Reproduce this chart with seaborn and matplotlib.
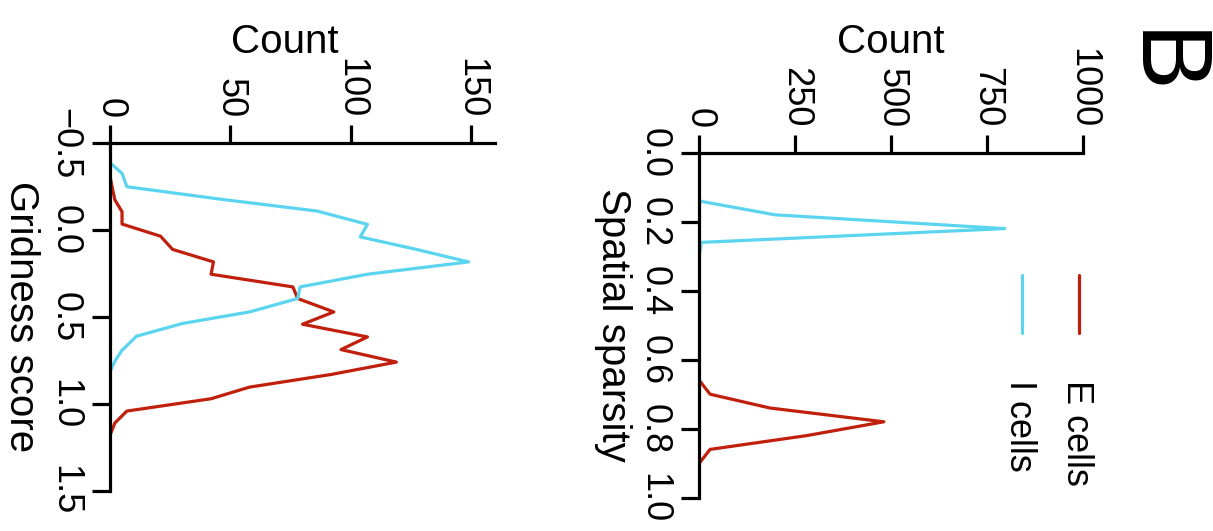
import numpy as np
import pandas as pd
import matplotlib
matplotlib.use("Agg")
import matplotlib.pyplot as plt
import seaborn as sns
from matplotlib.lines import Line2D

# ---------------- data ----------------
cell_types = ["E cells", "I cells"]

grid_score_E = [-0.31, -0.24, -0.175, -0.106, -0.035, 0.035, 0.111, 0.183, 0.254, 0.327,
                0.394, 0.471, 0.542, 0.615, 0.688, 0.760, 0.831, 0.904, 0.971, 1.042,
                1.111, 1.182]
grid_count_E = [0, 1, 2, 5, 5, 21, 26, 43, 42, 76,
                78, 93, 80, 107, 96, 119, 92, 58, 42, 7,
                2, 0]

grid_score_I = [-0.388, -0.327, -0.250, -0.178, -0.110, -0.033, 0.039, 0.110, 0.183, 0.254,
                0.327, 0.394, 0.471, 0.538, 0.611, 0.692, 0.755, 0.817]
grid_count_I = [0, 5, 7, 46, 86, 107, 104, 127, 149, 107,
                79, 78, 58, 30, 11, 5, 2, 0]

sparsity_E = [0.66, 0.70, 0.74, 0.78, 0.82, 0.86, 0.90]
sparsity_count_E = [0, 28, 184, 481, 280, 28, 0]

sparsity_I = [0.14, 0.18, 0.22, 0.26, 0.30]
sparsity_count_I = [0, 197, 796, 5, 0]

grid_ticks = [-0.5, 0.0, 0.5, 1.0, 1.5]
grid_tick_labels = ["\u22120.5", "0.0", "0.5", "1.0", "1.5"]
grid_count_ticks = [0, 50, 100, 150]
sparsity_ticks = [0.0, 0.2, 0.4, 0.6, 0.8, 1.0]
sparsity_tick_labels = ["0.0", "0.2", "0.4", "0.6", "0.8", "1.0"]
sparsity_count_ticks = [0, 250, 500, 750, 1000]

palette = {"E cells": "#C01F0C", "I cells": "#5BD5EF"}

# ---------------- style ----------------
sns.set_theme(style="white")
plt.rcParams["font.family"] = ["Liberation Sans", "DejaVu Sans"]
plt.rcParams["axes.edgecolor"] = "black"
plt.rcParams["text.color"] = "black"
plt.rcParams["axes.labelcolor"] = "black"
plt.rcParams["xtick.color"] = "black"
plt.rcParams["ytick.color"] = "black"

W, H = 1213, 531
fig = plt.figure(figsize=(W / 100, H / 100), dpi=100)


def px_axes(left, top, right, bottom):
    return fig.add_axes([left / W, 1 - bottom / H, (right - left) / W, (bottom - top) / H])


ax1 = px_axes(110, 143.3, 495, 490.6)
ax2 = px_axes(699.3, 152.7, 1083, 497.7)

df_grid = pd.concat([
    pd.DataFrame({"score": grid_score_E, "count": grid_count_E, "cell": cell_types[0]}),
    pd.DataFrame({"score": grid_score_I, "count": grid_count_I, "cell": cell_types[1]}),
], ignore_index=True)
df_sparse = pd.concat([
    pd.DataFrame({"score": sparsity_E, "count": sparsity_count_E, "cell": cell_types[0]}),
    pd.DataFrame({"score": sparsity_I, "count": sparsity_count_I, "cell": cell_types[1]}),
], ignore_index=True)

LW = 2.3
for ax, df in [(ax1, df_grid), (ax2, df_sparse)]:
    sns.lineplot(data=df, x="count", y="score", hue="cell", hue_order=cell_types,
                 palette=palette, orient="y", sort=False, estimator=None,
                 linewidth=LW, legend=False, ax=ax)

LABEL_FS = 29
TICK_FS = 26
LEGEND_FS = 26


def style_axes(ax, xlim, ylim, xticks, yticks, yticklabels, ylabel, count_label_x, count_label_y, ylabel_x):
    ax.set_xlim(*xlim)
    ax.set_ylim(*ylim)
    ax.xaxis.set_ticks_position("top")
    ax.xaxis.set_label_position("top")
    ax.set_xticks(xticks)
    ax.set_xticklabels([str(t) for t in xticks], fontsize=TICK_FS)
    ax.set_yticks(yticks)
    ax.set_yticklabels(yticklabels, fontsize=TICK_FS)
    for s in ["right", "bottom"]:
        ax.spines[s].set_visible(False)
    for s in ["top", "left"]:
        ax.spines[s].set_visible(True)
        ax.spines[s].set_linewidth(2.3)
        ax.spines[s].set_color("black")
    ax.tick_params(axis="x", which="major", top=True, bottom=False, labeltop=True,
                   labelbottom=False, direction="out", length=13, width=2.3,
                   labelsize=TICK_FS, pad=5)
    ax.tick_params(axis="y", which="major", left=True, right=False, labelleft=True,
                   direction="out", length=13, width=2.3, labelsize=TICK_FS, pad=7)
    for lab in ax.get_xticklabels():
        lab.set_rotation(-90)
        lab.set_ha("center")
        lab.set_va("bottom")
        lab.set_fontsize(TICK_FS)
    for lab in ax.get_yticklabels():
        lab.set_rotation(-90)
        lab.set_ha("right")
        lab.set_va("center")
        lab.set_fontsize(TICK_FS)
    ax.set_xlabel("Count", fontsize=LABEL_FS)
    ax.xaxis.label.set_va("baseline")
    ax.xaxis.set_label_coords(count_label_x, count_label_y)
    ax.set_ylabel(ylabel, fontsize=LABEL_FS, rotation=-90, ha="center", va="center")
    ax.yaxis.set_label_coords(ylabel_x, 0.5)
    ax.grid(False)
    ax.set_facecolor("white")


style_axes(ax1, (0, 160), (1.5, -0.5), grid_count_ticks, grid_ticks, grid_tick_labels,
           "Gridness score", 0.4545, 1.261, -0.231)
style_axes(ax2, (0, 1000), (1.0, 0.0), sparsity_count_ticks, sparsity_ticks, sparsity_tick_labels,
           "Spatial sparsity", 0.5, 1.29, -0.225)

# ---------------- legend (vertical, rotated like the panel) ----------------
legend_x = {"E cells": 1079.3, "I cells": 1022.3}
legend_text_x = {"E cells": 1076.5, "I cells": 1019.5}
for name in cell_types:
    x = legend_x[name] / W
    fig.add_artist(Line2D([x, x], [1 - 275 / H, 1 - 332.7 / H], color=palette[name],
                          linewidth=LW, transform=fig.transFigure))
    fig.text(legend_text_x[name] / W, 1 - 380 / H, name, rotation=-90, ha="center", va="top",
             fontsize=LEGEND_FS)

# panel letter
fig.text(1160 / W, 1 - 63 / H, "B", rotation=-90, ha="center", va="center", fontsize=72)

fig.savefig("out.png", dpi=100, facecolor="white")
